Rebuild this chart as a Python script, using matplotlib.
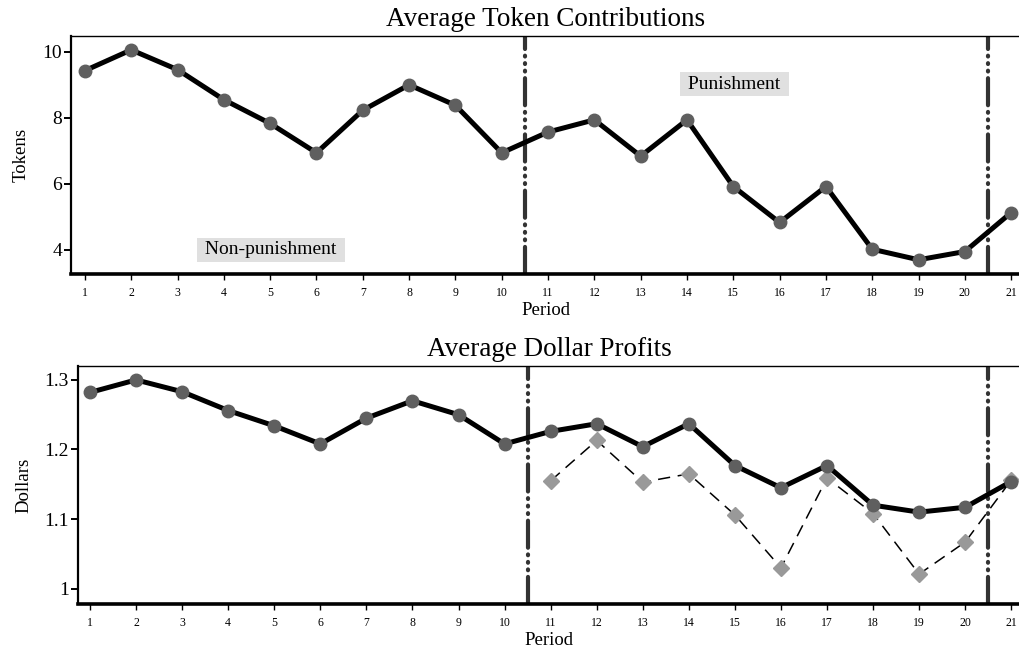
import matplotlib
matplotlib.use("Agg")
import matplotlib.pyplot as plt

plt.rcParams['font.family'] = ['Liberation Serif', 'DejaVu Serif']

# data
periods = list(range(1, 22))
tokens = [9.43, 10.06, 9.46, 8.55, 7.83, 6.94, 8.23, 9.0, 8.38, 6.94,
          7.57, 7.94, 6.84, 7.94, 5.92, 4.83, 5.92, 4.02, 3.70, 3.95, 5.13]
dollars = [1.282, 1.300, 1.283, 1.256, 1.234, 1.208, 1.245, 1.270, 1.250, 1.208,
           1.226, 1.237, 1.204, 1.237, 1.177, 1.145, 1.177, 1.120, 1.110, 1.117, 1.154]
punish_periods = list(range(11, 22))
dollars_net = [1.155, 1.213, 1.153, 1.165, 1.106, 1.030, 1.159, 1.108, 1.021, 1.067, 1.156]
breaks = [10.5, 20.5]

fig = plt.figure(figsize=(10.2, 6.52), dpi=100)
ax1 = fig.add_axes([0.0696, 0.5798, 0.9304, 0.3650])
ax2 = fig.add_axes([0.0765, 0.0736, 0.9235, 0.3651])

def style(ax):
    ax.spines['right'].set_visible(False)
    ax.spines['top'].set_linewidth(1.0)
    ax.spines['left'].set_linewidth(1.6)
    ax.spines['bottom'].set_linewidth(2.6)
    ax.set_xticks(periods)
    ax.tick_params(axis='x', direction='out', length=4.5, width=1.0, labelsize=8.5, pad=5)
    ax.tick_params(axis='y', direction='out', length=5, width=1.4, labelsize=14, pad=1.5)
    ax.set_xlabel('Period', fontsize=13.5, labelpad=2)
    for b in breaks:
        ax.axvline(b, color='#333333', linewidth=3.0, solid_capstyle='round',
                   dash_capstyle='round', dashes=(6.5, 1.6, 0.2, 1.6, 0.2, 1.6, 0.2, 1.6))

# top panel
ax1.plot(periods, tokens, color='black', linewidth=3.6, zorder=3)
ax1.plot(periods, tokens, 'o', color='#5f5f5f', markersize=9, zorder=4)
ax1.set_xlim(0.70, 21.19)
ax1.set_ylim(3.27, 10.48)
ax1.set_yticks([4, 6, 8, 10])
ax1.set_ylabel('Tokens', fontsize=13.5, labelpad=9)
ax1.set_title('Average Token Contributions', fontsize=19.5, pad=7)
ax1.text(5.02, 4.0, ' Non-punishment ', fontsize=14, ha='center', va='center',
         bbox=dict(facecolor='#e0e0e0', edgecolor='none', pad=2.5))
ax1.text(15.02, 9.02, ' Punishment ', fontsize=14, ha='center', va='center',
         bbox=dict(facecolor='#e0e0e0', edgecolor='none', pad=2.5))
style(ax1)

# bottom panel
ax2.plot(punish_periods, dollars_net, color='black', linewidth=1.1,
         dashes=(8, 5), zorder=2)
ax2.plot(punish_periods, dollars_net, 'D', color='#999999', markersize=8, zorder=2)
ax2.plot(periods, dollars, color='black', linewidth=3.6, zorder=3)
ax2.plot(periods, dollars, 'o', color='#5f5f5f', markersize=9, zorder=4)
ax2.set_xlim(0.74, 21.19)
ax2.set_ylim(0.978, 1.320)
ax2.set_yticks([1, 1.1, 1.2, 1.3])
ax2.set_yticklabels(['1', '1.1', '1.2', '1.3'])
ax2.set_ylabel('Dollars', fontsize=13.5, labelpad=9)
ax2.set_title('Average Dollar Profits', fontsize=19.5, pad=7)
style(ax2)

fig.savefig('out.png', dpi=100)
